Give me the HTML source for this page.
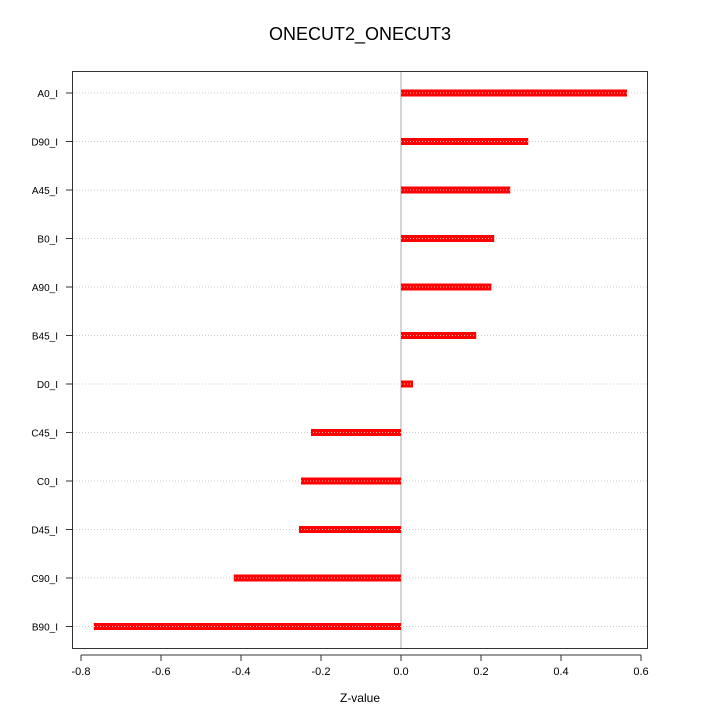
<!DOCTYPE html>
<html><head><style>body{margin:0;background:#fff}svg{font-family:"Liberation Sans",sans-serif}</style></head>
<body>
<svg id="c" width="720" height="720" xmlns="http://www.w3.org/2000/svg">
<rect width="720" height="720" fill="#fff"/>
<text x="360" y="40" font-size="18" text-anchor="middle">ONECUT2_ONECUT3</text>
<text x="360" y="702" font-size="12" text-anchor="middle">Z-value</text>
<g id="g"></g>
</svg>
<script>
const categories=["A0_I","D90_I","A45_I","B0_I","A90_I","B45_I","D0_I","C45_I","C0_I","D45_I","C90_I","B90_I"];
const values=[0.565,0.318,0.273,0.233,0.226,0.188,0.03,-0.225,-0.25,-0.255,-0.418,-0.768];
const ticks=[-0.8,-0.6,-0.4,-0.2,0.0,0.2,0.4,0.6];
const tickLabels=["-0.8","-0.6","-0.4","-0.2","0.0","0.2","0.4","0.6"];
const NS="http://www.w3.org/2000/svg";
const g=document.getElementById('g');
const x=v=>401+v*400;
const y=i=>93+i*48.5;
function el(t,a){const e=document.createElementNS(NS,t);for(const k in a)e.setAttribute(k,a[k]);g.appendChild(e);return e;}
categories.forEach((c,i)=>{
 const l=el('line',{x1:73,x2:648,y1:y(i),y2:y(i),stroke:'#ccc','stroke-dasharray':'1,2'});
 
 
 const tk=el('line',{x1:66,x2:72,y1:y(i),y2:y(i),stroke:'#333'});
 
 
 const t=el('text',{x:58,y:y(i)+4,'font-size':10,'text-anchor':'end'});t.textContent=c;
 
 
});
el('line',{x1:x(0),x2:x(0),y1:71,y2:648,stroke:'#aaa'});
values.forEach((v,i)=>{
 const r=el('rect',{x:Math.min(x(0),x(v)),y:y(i)-3.5,width:Math.abs(x(v)-x(0)),height:7,fill:'#ff0000'});
 
 
 const d=el('line',{x1:x(0),x2:x(v),y1:y(i),y2:y(i),stroke:'#ffb0b0','stroke-dasharray':'1,2'});
 
 
});
const f=el('rect',{x:72.5,y:71.5,width:575,height:577,fill:'none',stroke:'#333'});


ticks.forEach((v,i)=>{
 const tk=el('line',{x1:x(v),x2:x(v),y1:655,y2:661,stroke:'#333'});
 
 
 const t=el('text',{x:x(v),y:675,'font-size':11,'text-anchor':'middle'});t.textContent=tickLabels[i];
 
 
});
const ax=el('line',{x1:x(ticks[0]),x2:x(ticks[ticks.length-1]),y1:655,y2:655,stroke:'#333'});


</script>
</body></html>
